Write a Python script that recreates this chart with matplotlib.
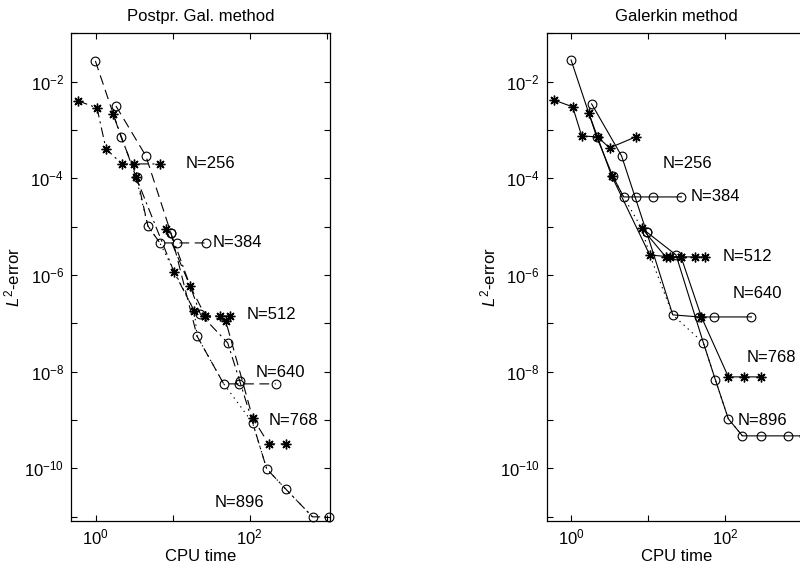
import numpy as np
import matplotlib
matplotlib.use("Agg")
import matplotlib.pyplot as plt
from matplotlib.ticker import FixedLocator, FixedFormatter, NullLocator

plt.rcParams['font.family'] = ['Liberation Sans', 'DejaVu Sans']
plt.rcParams['mathtext.fontset'] = 'custom'
plt.rcParams['mathtext.rm'] = 'Liberation Sans'
plt.rcParams['mathtext.it'] = 'Liberation Sans:italic'
plt.rcParams['lines.scale_dashes'] = False

# ---------------- data ----------------
titles = ["Postpr. Gal. method", "Galerkin method"]
xlabel = "CPU time"
ylabel = "$L^2$-error"
n_labels = ["N=256", "N=384", "N=512", "N=640", "N=768", "N=896"]

x_tick_exps = [0, 1, 2, 3]
y_tick_exps = [-11, -10, -9, -8, -7, -6, -5, -4, -3, -2, -1]

# CPU times per N
t256 = [0.590, 1.04, 1.36, 2.19, 3.13, 6.81]
t384 = [0.99, 2.13, 3.43, 4.76, 6.81, 11.3, 26.8]
t512 = [1.68, 3.33, 10.4, 19.1, 26.5, 40.6, 54.6]
t640 = [1.83, 4.48, 9.45, 20.7, 45.9, 71.8, 217]
t768 = [8.14, 16.8, 26.5, 48.7, 109, 176, 292]
t896 = [9.45, 22.8, 51.7, 74.0, 109, 166, 292, 653, 1052]

# postprocessed Galerkin errors
p256 = [3.99e-3, 2.86e-3, 4.05e-4, 1.98e-4, 1.98e-4, 1.98e-4]
p384 = [2.68e-2, 7.17e-4, 1.07e-4, 1.03e-5, 4.59e-6, 4.59e-6, 4.59e-6]
p512 = [2.15e-3, 1.07e-4, 1.15e-6, 1.78e-7, 1.42e-7, 1.42e-7, 1.42e-7]
p640 = [3.14e-3, 2.90e-4, 7.40e-6, 5.4e-8, 5.56e-9, 5.56e-9, 5.56e-9]
p768 = [8.96e-6, 5.9e-7, 1.42e-7, 1.12e-7, 1.10e-9, 3.19e-10, 3.19e-10]
p896 = [7.40e-6, 1.55e-7, 3.92e-8, 6.41e-9, 8.67e-10, 9.68e-11, 3.73e-11, 9.84e-12, 9.84e-12]

# Galerkin errors
g256 = [4.18e-3, 3.00e-3, 7.52e-4, 7.17e-4, 4.25e-4, 7.17e-4]
g384 = [2.81e-2, 7.17e-4, 1.12e-4, 4.11e-5, 4.11e-5, 4.11e-5, 4.11e-5]
g512 = [2.25e-3, 1.12e-4, 2.59e-6, 2.36e-6, 2.36e-6, 2.36e-6, 2.36e-6]
g640 = [3.46e-3, 2.90e-4, 7.76e-6, 1.49e-7, 1.35e-7, 1.35e-7, 1.35e-7]
g768 = [9.39e-6, 2.36e-6, 2.36e-6, 1.35e-7, 7.76e-9, 7.76e-9, 7.76e-9]
g896 = [7.76e-6, 2.59e-6, 3.92e-8, 6.73e-9, 1.05e-9, 4.67e-10, 4.67e-10, 4.67e-10, 4.67e-10]

# dotted envelopes
env_p_t = [3.33, 4.76, 6.81, 19.1, 20.7, 45.9, 109, 166, 292, 653]
env_p_e = [1.07e-4, 1.03e-5, 4.59e-6, 1.78e-7, 5.4e-8, 5.56e-9, 8.67e-10, 9.68e-11, 3.73e-11, 9.84e-12]
env_g_t = [3.43, 4.76, 8.14, 10.4, 20.7, 51.7, 74.0, 109, 166]
env_g_e = [1.12e-4, 4.11e-5, 9.39e-6, 2.59e-6, 1.49e-7, 3.92e-8, 6.73e-9, 1.05e-9, 4.67e-10]

# label anchor positions (CPU time, error)
lab_p_t = [14.8, 33.4, 90.3, 119, 177, 35.1]
lab_p_e = [1.98e-4, 4.59e-6, 1.49e-7, 9.5e-9, 9.5e-10, 1.98e-11]
lab_g_t = [15.1, 35.8, 92.3, 124, 189, 144]
lab_g_e = [1.98e-4, 4.1e-5, 2.36e-6, 4.05e-7, 1.98e-8, 9.7e-10]

times = [t256, t384, t512, t640, t768, t896]
post = [p256, p384, p512, p640, p768, p896]
gal = [g256, g384, g512, g640, g768, g896]

xlim = (0.478, 1100)
ylim = (8.2e-12, 1.0e-1)

# ---------------- styles ----------------
STAR = (8, 2, 0)
markers = [STAR, 'o', STAR, 'o', STAR, 'o']
DASH = (0, (7, 4))
DASHDOT = (0, (7, 3, 1.5, 3))
DOT = (0, (1, 3))
left_styles = [DASHDOT, DASH, DASHDOT, DASH, DASH, DASHDOT]

fig = plt.figure(figsize=(8.0, 5.71), dpi=100)
ax_w = 259 / 800
ax_h = (520.7 - 33.3) / 571
ax_b = 1 - 520.7 / 571
axL = fig.add_axes([71 / 800, ax_b, ax_w, ax_h])
axR = fig.add_axes([546.7 / 800, ax_b, ax_w, ax_h])


def tick_labels(exps):
    return [r"$\mathdefault{10^{%d}}$" % e if e % 2 == 0 else "" for e in exps]


def draw(ax, errs, styles, env_t, env_e, lt, le, title):
    ax.plot(env_t, env_e, color='black', lw=0.8, linestyle=DOT, zorder=1)
    for t, e, m, ls in zip(times, errs, markers, styles):
        if m == 'o':
            ax.plot(t, e, color='black', lw=0.8, linestyle=ls, marker='o',
                    markersize=6.3, markerfacecolor='none', markeredgewidth=0.8,
                    clip_on=False, zorder=3)
        else:
            ax.plot(t, e, color='black', lw=0.8, linestyle=ls, marker=m,
                    markersize=7, markeredgewidth=1.0, clip_on=False, zorder=3)
    for s, x, y in zip(n_labels, lt, le):
        ax.text(x, y, s, fontsize=12, ha='left', va='center')
    ax.set_xscale('log')
    ax.set_yscale('log')
    ax.set_xlim(*xlim)
    ax.set_ylim(*ylim)
    ax.xaxis.set_major_locator(FixedLocator([10.0 ** e for e in x_tick_exps]))
    ax.xaxis.set_major_formatter(FixedFormatter(tick_labels(x_tick_exps)))
    ax.yaxis.set_major_locator(FixedLocator([10.0 ** e for e in y_tick_exps]))
    ax.yaxis.set_major_formatter(FixedFormatter(tick_labels(y_tick_exps)))
    ax.xaxis.set_minor_locator(NullLocator())
    ax.yaxis.set_minor_locator(NullLocator())
    ax.tick_params(direction='in', length=4, width=0.8, top=True, right=True,
                   labelsize=12, pad=5)
    for sp in ax.spines.values():
        sp.set_linewidth(0.9)
    ax.set_title(title, fontsize=12, pad=9)
    ax.set_xlabel(xlabel, fontsize=12, labelpad=1)
    ax.set_ylabel(ylabel, fontsize=12, labelpad=1)


draw(axL, post, left_styles, env_p_t, env_p_e, lab_p_t, lab_p_e, titles[0])
draw(axR, gal, ['-'] * 6, env_g_t, env_g_e, lab_g_t, lab_g_e, titles[1])

fig.savefig("out.png", dpi=100)
